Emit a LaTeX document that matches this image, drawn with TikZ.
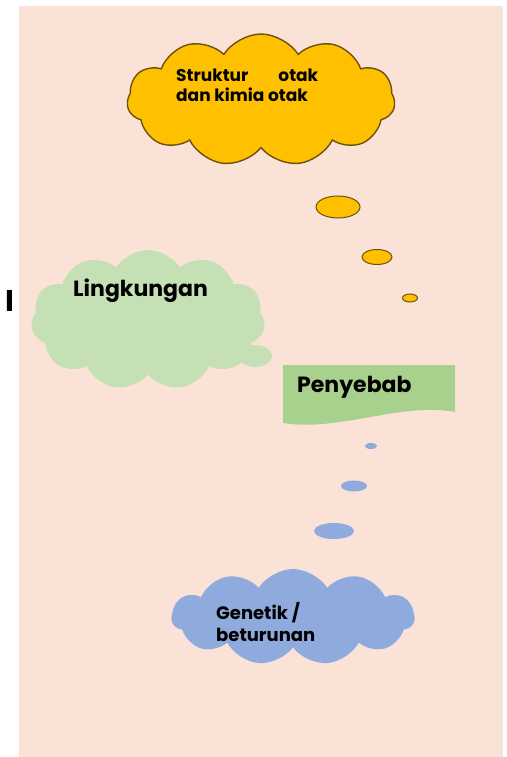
\documentclass[tikz,border=0pt]{standalone}
\usepackage{fontspec}
\setmainfont{Poppins}
\usetikzlibrary{shapes.symbols,shapes.geometric,positioning,calc}
\definecolor{bgpink}{RGB}{251,226,214}
\definecolor{gold}{RGB}{255,192,0}
\definecolor{goldline}{RGB}{110,80,15}
\definecolor{lgreen}{RGB}{197,224,180}
\definecolor{mgreen}{RGB}{169,209,142}
\definecolor{lblue}{RGB}{143,170,220}

\begin{document}
\begin{tikzpicture}[x=1pt,y=-1pt,
		every node/.style={font=\bfseries, text=black},
		puff/.style={cloud, cloud puffs=11, cloud puff arc=115, inner sep=0pt},
		goldcloud/.style={puff, draw=goldline, line width=1.4pt, fill=gold},
		greencloud/.style={puff, fill=lgreen},
		bluecloud/.style={puff, fill=lblue},
		bubble/.style={ellipse, inner sep=0pt, draw=goldline, line width=1pt, fill=gold},
		bluebubble/.style={ellipse, inner sep=0pt, fill=lblue},
		txt/.style={align=left, anchor=north west, inner sep=0pt}
	]
		\useasboundingbox (0,0) rectangle (506,757);
		\fill[bgpink] (19,6) rectangle (503,757);
		\node[font=\bfseries\fontsize{30}{30}\selectfont] (cursor) at (10,301) {I};

		% top cloud
		\node[goldcloud, minimum width=268pt, minimum height=132pt]
			(strukturcloud) at (261,100) {};
		\node[txt, font=\bfseries\fontsize{17}{20}\selectfont]
			(struktur) at (176,69)
			{Struktur\hspace{30pt}otak\\dan kimia otak};
		\node[bubble, minimum width=44pt, minimum height=22pt] (o1) at (338,207) {};
		\node[bubble, minimum width=30pt, minimum height=15pt] (o2) at (377,257) {};
		\node[bubble, minimum width=15pt, minimum height=8pt] (o3) at (410,298) {};

		% left cloud
		\node[greencloud, minimum width=234pt, minimum height=140pt]
			(lingkungancloud) at (148,320) {};
		\node[ellipse, fill=lgreen, minimum width=34pt, minimum height=22pt]
			(lingkunganpuff) at (255,356) {};
		\node[txt, font=\bfseries\fontsize{22}{22}\selectfont]
			(lingkungan) at (73,279) {Lingkungan};

		% banner
		\fill[mgreen] (283,365) -- (455,365) -- (455,412)
			.. controls (400,402) and (340,432) .. (283,423) -- cycle;
		\node[txt, font=\bfseries\fontsize{22}{22}\selectfont]
			(penyebab) at (297,376) {Penyebab};

		% bottom bubbles
		\node[bluebubble, minimum width=12pt, minimum height=6pt] (b1) at (371,446) {};
		\node[bluebubble, minimum width=26pt, minimum height=11pt] (b2) at (354,486) {};
		\node[bluebubble, minimum width=40pt, minimum height=16pt] (b3) at (334,531) {};

		% bottom cloud
		\node[bluecloud, minimum width=243pt, minimum height=96pt]
			(genetikcloud) at (293,617) {};
		\node[txt, font=\bfseries\fontsize{18}{22}\selectfont]
			(genetik) at (216,602) {Genetik /\\beturunan};
	\end{tikzpicture}
\end{document}
